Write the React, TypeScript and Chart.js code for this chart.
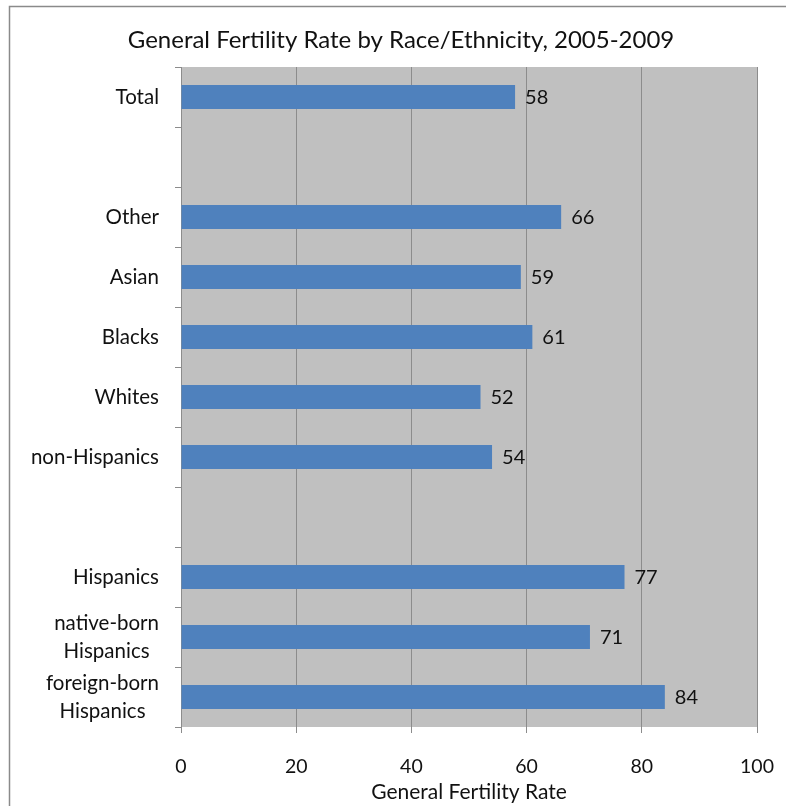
import React, { useEffect, useRef } from "react";
import { Chart, registerables } from "chart.js";

Chart.register(...registerables);

const categories: (string | string[])[] = [
  "Total",
  "",
  "Other",
  "Asian",
  "Blacks",
  "Whites",
  "non-Hispanics",
  "",
  "Hispanics",
  ["native-born", "Hispanics"],
  ["foreign-born", "Hispanics"],
];
const rates: (number | null)[] = [58, null, 66, 59, 61, 52, 54, null, 77, 71, 84];
const xTicks = [0, 20, 40, 60, 80, 100];
const titleText = "General Fertility Rate by Race/Ethnicity, 2005-2009";
const xTitleText = "General Fertility Rate";

const FONT = "Lato, 'Open Sans', sans-serif";
const TEXT = "#111111";

const decorPlugin = {
  id: "decor",
  beforeDraw(chart: any) {
    const { ctx, chartArea } = chart;
    ctx.save();
    ctx.fillStyle = "#ffffff";
    ctx.fillRect(0, 0, chart.width, chart.height);
    ctx.strokeStyle = "#8a8a8a";
    ctx.lineWidth = 1.5;
    ctx.strokeRect(9.5, 6.5, 900, 900);
    ctx.fillStyle = "#c0c0c0";
    ctx.fillRect(chartArea.left, chartArea.top, chartArea.right - chartArea.left, chartArea.bottom - chartArea.top);
    ctx.restore();
  },
  afterDraw(chart: any) {
    const { ctx, chartArea, scales } = chart;
    ctx.save();
    ctx.fillStyle = TEXT;
    // title
    ctx.font = `24px ${FONT}`;
    ctx.textAlign = "center";
    ctx.textBaseline = "middle";
    ctx.fillText(titleText, 401, 40);
    // x title
    ctx.font = `21px ${FONT}`;
    ctx.fillText(xTitleText, (chartArea.left + chartArea.right) / 2, 792);
    // y labels
    ctx.font = `20.5px ${FONT}`;
    const yScale = scales.y;
    const rightEdge = chartArea.left - 22;
    categories.forEach((lab, i) => {
      const lines = Array.isArray(lab) ? lab : [lab];
      if (!lines[0]) return;
      const yc = yScale.getPixelForValue(i);
      const lh = 28;
      const maxW = Math.max(...lines.map((l) => ctx.measureText(l).width));
      const cx = rightEdge - maxW / 2;
      lines.forEach((l, j) => {
        const y = yc + (j - (lines.length - 1) / 2) * lh;
        ctx.textAlign = "center";
        ctx.fillText(l, cx, y);
      });
    });
    // data labels
    ctx.font = `20px ${FONT}`;
    const meta = chart.getDatasetMeta(0);
    ctx.textAlign = "left";
    meta.data.forEach((bar: any, i: number) => {
      const v = rates[i];
      if (v === null) return;
      ctx.fillText(String(v), bar.x + 10, bar.y + 1);
    });
    ctx.restore();
  },
};

export default function App() {
  const ref = useRef<HTMLCanvasElement>(null);
  useEffect(() => {
    if (!ref.current) return;
    const chart = new Chart(ref.current, {
      type: "bar",
      data: {
        labels: categories as any,
        datasets: [
          {
            data: rates,
            backgroundColor: "#4f81bd",
            borderColor: "#4a7ebb",
            borderWidth: 0,
            categoryPercentage: 1,
            barPercentage: 0.4,
          },
        ],
      },
      plugins: [decorPlugin],
      options: {
        indexAxis: "y",
        animation: false,
        responsive: false,
        maintainAspectRatio: false,
        layout: { padding: { top: 67, right: 29, left: 0, bottom: 0 } },
        plugins: {
          legend: { display: false },
          tooltip: { enabled: false },
          title: { display: false },
        },
        scales: {
          x: {
            min: 0,
            max: 100,
            afterBuildTicks(scale: any) {
              scale.ticks = xTicks.map((v) => ({ value: v }));
            },
            afterFit(scale: any) {
              scale.height = 79;
              scale.paddingLeft = 0;
              scale.paddingRight = 0;
            },
            grid: {
              color: "#8c8c8c",
              lineWidth: 1,
              drawTicks: true,
              tickLength: 6,
              tickColor: "#8c8c8c",
            },
            border: { display: false },
            ticks: {
              color: TEXT,
              font: { family: FONT, size: 19.5 },
              padding: 22,
              maxRotation: 0,
            },
          },
          y: {
            type: "category",
            offset: true,
            afterFit(scale: any) {
              scale.width = 181;
            },
            grid: {
              offset: true,
              drawOnChartArea: false,
              drawTicks: true,
              tickLength: 6,
              color: "#8c8c8c",
              tickColor: "#8c8c8c",
            },
            border: { display: true, color: "#8c8c8c" },
            ticks: { display: false },
          },
        },
      },
    });
    return () => chart.destroy();
  }, []);
  return (
    <div style={{ position: "fixed", left: 0, top: 0, width: 786, height: 806 }}>
      <canvas ref={ref} width={786} height={806} style={{ width: 786, height: 806 }} />
    </div>
  );
}
